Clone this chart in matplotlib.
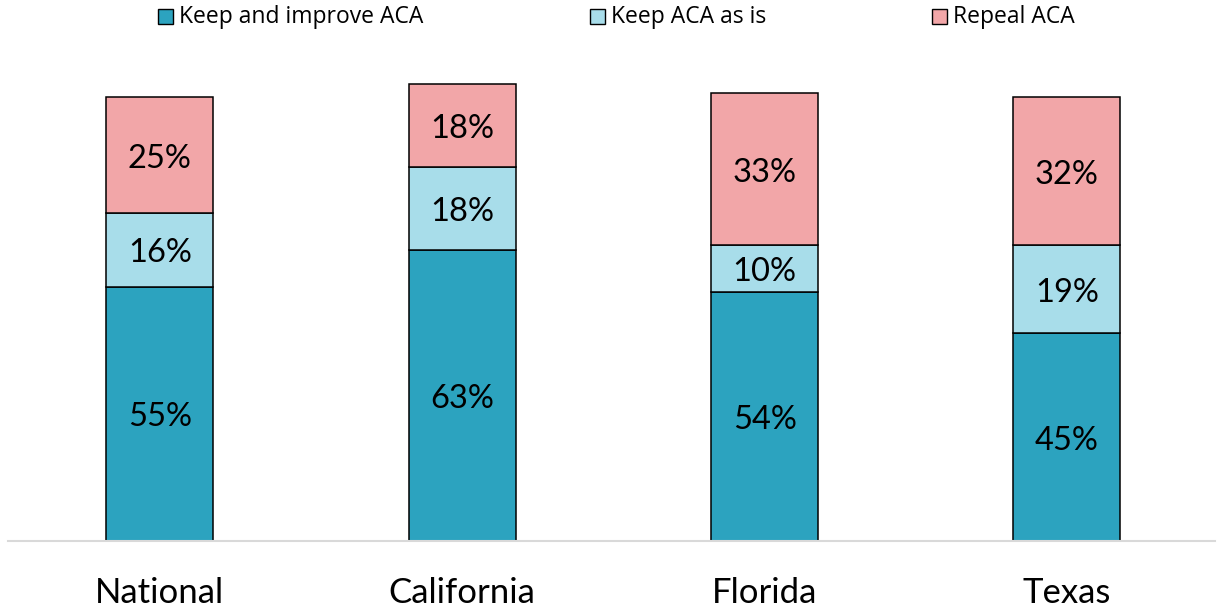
import matplotlib.pyplot as plt
from matplotlib.patches import Rectangle
import numpy as np

# datos del grafico
regiones = ['National', 'California', 'Florida', 'Texas']
series = ['Keep and improve ACA', 'Keep ACA as is', 'Repeal ACA']
mejorar = [55, 63, 54, 45]
mantener = [16, 18, 10, 19]
derogar = [25, 18, 33, 32]
colores = ['#2CA3BF', '#A8DDEA', '#F2A6A8']

W, H = 1220, 607
fig = plt.figure(figsize=(W / 100, H / 100), dpi=100)

# ejes colocados en pixeles: linea base en y=541, eje de x=8 a x=1215
y_base = 541
y_top = 60
ax = fig.add_axes([8 / W, (H - y_base) / H, (1215 - 8) / W, (y_base - y_top) / H])
ax.set_xlim(-0.5025, 3.49)
ax.set_ylim(0, (y_base - y_top) / 4.62)

x = np.arange(len(regiones))
ancho = 0.354
abajo = np.zeros(len(regiones))
for valores, color in zip([mejorar, mantener, derogar], colores):
    ax.bar(x, valores, ancho, bottom=abajo, color=color, edgecolor='black',
           linewidth=1.1, zorder=2)
    for xi, b, v in zip(x, abajo, valores):
        ax.annotate(f'{v}%', (xi, b + v / 2), xytext=(0, -2.5),
                    textcoords='offset points', ha='center', va='center',
                    fontsize=23.5, family='Lato', color='black')
    abajo = abajo + np.array(valores)

for s in ['top', 'right', 'left']:
    ax.spines[s].set_visible(False)
ax.spines['bottom'].set_color('#D9D9D9')
ax.spines['bottom'].set_linewidth(1.5)
ax.spines['bottom'].set_zorder(3)
ax.set_yticks([])
ax.set_xticks(x)
ax.set_xticklabels(regiones, fontsize=25, family='Lato')
ax.tick_params(axis='x', length=0, pad=26)

# leyenda hecha a mano
pos_leyenda = [158, 590, 932]
for px, nombre, color in zip(pos_leyenda, series, colores):
    fig.patches.append(Rectangle((px / W, (H - 24) / H), 15 / W, 15 / H,
                                 transform=fig.transFigure, facecolor=color,
                                 edgecolor='black', linewidth=1.0))
    fig.text((px + 21) / W, (H - 17) / H, nombre, ha='left', va='center',
             fontsize=16.5, family='Open Sans')

fig.savefig('out.png', dpi=100)
